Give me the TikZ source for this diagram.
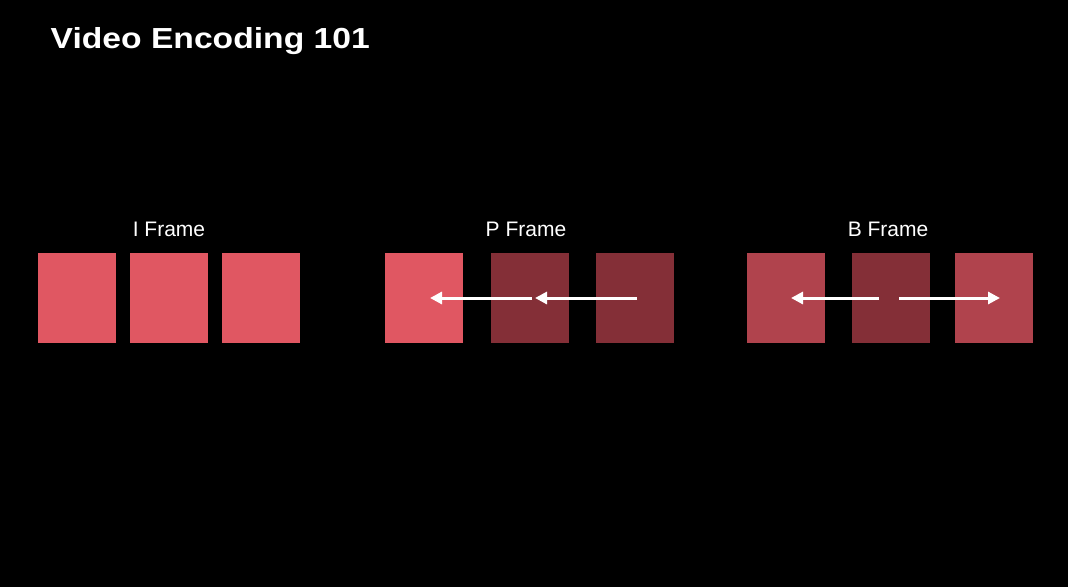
\documentclass[tikz,border=0pt]{standalone}
\usepackage{fontspec}
\setmainfont{Liberation Sans}
\usetikzlibrary{arrows.meta}
\definecolor{ipink}{HTML}{E05762}
\definecolor{bmid}{HTML}{B0434D}
\definecolor{pdark}{HTML}{842F37}
\tikzset{
  frame/.style={minimum width=78pt, minimum height=90pt, inner sep=0pt, outer sep=0pt, draw=none},
  lbl/.style={text=white, font=\fontsize{21}{24}\selectfont, anchor=base, inner sep=0pt},
  arr/.style={draw=white, line width=3pt, -{Triangle[length=12pt,width=12pt]}}
}
\begin{document}
\begin{tikzpicture}[x=1pt,y=-1pt]
\fill[black] (0,0) rectangle (1068,587);
\useasboundingbox (0,0) rectangle (1068,587);
\node[anchor=base west, text=white, inner sep=0pt, font=\fontsize{29}{32}\bfseries\selectfont, xscale=1.16] (title) at (50.5,48) {Video Encoding 101};
% I frames
\node[frame, fill=ipink] (i1) at (77,298) {};
\node[frame, fill=ipink] (i2) at (169,298) {};
\node[frame, fill=ipink] (i3) at (261,298) {};
% P frames
\node[frame, fill=ipink] (p1) at (424,298) {};
\node[frame, fill=pdark] (p2) at (530,298) {};
\node[frame, fill=pdark] (p3) at (635,298) {};
% B frames
\node[frame, fill=bmid] (b1) at (786,298) {};
\node[frame, fill=pdark] (b2) at (891,298) {};
\node[frame, fill=bmid] (b3) at (994,298) {};
% labels
\node[lbl] (li) at (169,236.5) {I Frame};
\node[lbl] (lp) at (526,236.5) {P Frame};
\node[lbl] (lb) at (888,236.5) {B Frame};
% arrow coordinates
\coordinate (pa1s) at (637,298);
\coordinate (pa1e) at (535,298);
\coordinate (pa2s) at (532,298);
\coordinate (pa2e) at (430,298);
\coordinate (ba1s) at (879,298);
\coordinate (ba1e) at (791,298);
\coordinate (ba2s) at (899,298);
\coordinate (ba2e) at (1000,298);
\draw[arr] (pa1s) -- (pa1e);
\draw[arr] (pa2s) -- (pa2e);
\draw[arr] (ba1s) -- (ba1e);
\draw[arr] (ba2s) -- (ba2e);
\end{tikzpicture}
\end{document}
